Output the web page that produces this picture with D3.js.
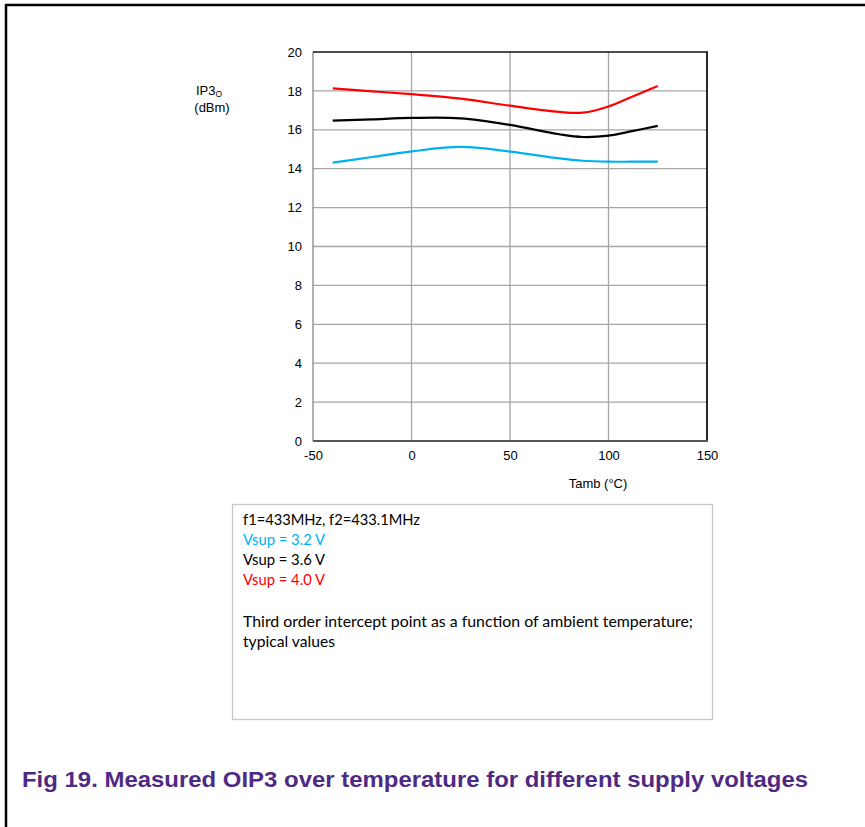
<!DOCTYPE html>
<html><head><meta charset="utf-8">
<script src="https://cdn.jsdelivr.net/npm/d3@7"></script>
<style>html,body{margin:0;padding:0;background:#fff;}svg{display:block;}</style>
</head><body>
<svg id="c" width="865" height="827"></svg>
<script>
const temps = [-40, -20, 0, 25, 50, 75, 87, 100, 112, 125];
const v32 = [14.31, 14.6, 14.89, 15.12, 14.88, 14.53, 14.41, 14.36, 14.36, 14.36];
const v36 = [16.47, 16.54, 16.61, 16.59, 16.25, 15.77, 15.63, 15.7, 15.93, 16.2];
const v40 = [18.13, 17.98, 17.83, 17.6, 17.24, 16.92, 16.88, 17.2, 17.7, 18.25];
const xTicks = [-50, 0, 50, 100, 150];
const yTicks = [0, 2, 4, 6, 8, 10, 12, 14, 16, 18, 20];
const seriesNames = ["Vsup = 3.2 V", "Vsup = 3.6 V", "Vsup = 4.0 V"];
const seriesColors = ["#00b0f0", "#000000", "#ff0000"];
const noteLines = ["f1=433MHz, f2=433.1MHz"];
const descLines = ["Third order intercept point as a function of ambient temperature;", "typical values"];
const caption = "Fig 19. Measured OIP3 over temperature for different supply voltages";

const svg = d3.select("#c");
svg.append("line").attr("x1",5).attr("x2",865).attr("y1",5).attr("y2",5).attr("stroke","#000").attr("stroke-width",2.5);
svg.append("line").attr("x1",6).attr("x2",6).attr("y1",4).attr("y2",827).attr("stroke","#000").attr("stroke-width",2.5);

const L=313, R=707, T=52, B=441;
const x = d3.scaleLinear().domain([-50,150]).range([L,R]);
const y = d3.scaleLinear().domain([0,20]).range([B,T]);

const g = svg.append("g");
g.selectAll(".hg").data(yTicks.filter(d=>d>0&&d<20)).enter().append("line")
 .attr("x1",L).attr("x2",R).attr("y1",d=>y(d)).attr("y2",d=>y(d)).attr("stroke","#a6a6a6").attr("stroke-width",1.3);
g.selectAll(".vg").data(xTicks.filter(d=>d>-50&&d<150)).enter().append("line")
 .attr("y1",T).attr("y2",B).attr("x1",d=>x(d)).attr("x2",d=>x(d)).attr("stroke","#a6a6a6").attr("stroke-width",1.3);
g.append("line").attr("x1",L).attr("x2",L).attr("y1",T).attr("y2",B).attr("stroke","#888").attr("stroke-width",1.3);
g.append("line").attr("x1",L).attr("x2",R+1).attr("y1",T).attr("y2",T).attr("stroke","#111").attr("stroke-width",1.5);
g.append("line").attr("x1",R).attr("x2",R).attr("y1",T).attr("y2",B).attr("stroke","#111").attr("stroke-width",1.8);
g.append("line").attr("x1",L).attr("x2",R+1).attr("y1",B).attr("y2",B).attr("stroke","#555").attr("stroke-width",2);

const fmt = d => String(d);
const yAxis = g.append("g").attr("transform",`translate(${L},0)`).call(d3.axisLeft(y).tickValues(yTicks).tickFormat(fmt).tickSize(0).tickPadding(11));
const xAxis = g.append("g").attr("transform",`translate(0,${B})`).call(d3.axisBottom(x).tickValues(xTicks).tickFormat(fmt).tickSize(0).tickPadding(10));
[yAxis,xAxis].forEach(a=>{a.select(".domain").remove();a.selectAll("text").attr("font-family","Liberation Sans, Arial, sans-serif").attr("font-size",13).attr("fill","#000");});

const af = "Liberation Sans, Arial, sans-serif";
const yt = svg.append("text").attr("x",196).attr("y",95).attr("font-family",af).attr("font-size",13);
yt.append("tspan").text("IP3");
yt.append("tspan").attr("font-size",8.5).attr("dy",1.5).text("O");
svg.append("text").attr("x",212).attr("y",112).attr("text-anchor","middle").attr("font-family",af).attr("font-size",13).text("(dBm)");
svg.append("text").attr("x",598).attr("y",488).attr("text-anchor","middle").attr("font-family",af).attr("font-size",13).text("Tamb (°C)");

const line = d3.line().x((d,i)=>x(temps[i])).y(d=>y(d)).curve(d3.curveCatmullRom.alpha(0.5));
[v32,v36,v40].forEach((s,k)=>{
  g.append("path").attr("d",line(s)).attr("fill","none").attr("stroke",seriesColors[k]).attr("stroke-width",2.2);
});

svg.append("rect").attr("x",232.5).attr("y",504.5).attr("width",480).attr("height",215).attr("fill","#fff").attr("stroke","#c8c8c8").attr("stroke-width",1.3);
const ff = "Lato, 'Open Sans', sans-serif";
const fs = 15;
svg.append("text").attr("x",243).attr("y",525).attr("font-family",ff).attr("font-size",fs).attr("fill","#000").attr("textLength",177).attr("lengthAdjust","spacingAndGlyphs").text(noteLines[0]);
seriesNames.forEach((n,k)=>{
  svg.append("text").attr("x",243).attr("y",545+k*20).attr("font-family",ff).attr("font-size",fs).attr("fill",seriesColors[k]).attr("textLength",82).attr("lengthAdjust","spacingAndGlyphs").text(n);
});
svg.append("text").attr("x",243).attr("y",627).attr("font-family",ff).attr("font-size",fs).attr("textLength",450).attr("lengthAdjust","spacingAndGlyphs").text(descLines[0]);
svg.append("text").attr("x",243).attr("y",647).attr("font-family",ff).attr("font-size",fs).attr("textLength",92).attr("lengthAdjust","spacingAndGlyphs").text(descLines[1]);

svg.append("text").attr("x",22).attr("y",787).attr("font-family",af).attr("font-weight","bold").attr("font-size",22).attr("fill","#4f2a84").attr("textLength",786).attr("lengthAdjust","spacingAndGlyphs").text(caption);
</script>
</body></html>
